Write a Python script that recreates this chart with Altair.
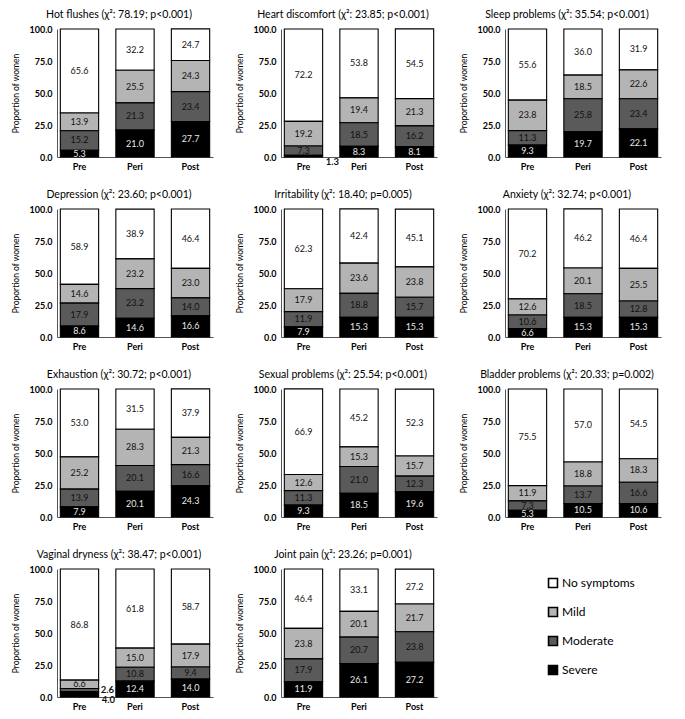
import altair as alt
import pandas as pd

FONT = "Lato"

stages = ["Pre", "Peri", "Post"]
levels = ["No symptoms", "Mild", "Moderate", "Severe"]
level_colors = ["#ffffff", "#b4b4b4", "#5a5a5a", "#000000"]

symptoms = ["Hot flushes", "Heart discomfort", "Sleep problems", "Depression",
            "Irritability", "Anxiety", "Exhaustion", "Sexual problems",
            "Bladder problems", "Vaginal dryness", "Joint pain"]
chi2 = ["78.19", "23.85", "35.54", "23.60", "18.40", "32.74", "30.72",
        "25.54", "20.33", "38.47", "23.26"]
pvals = ["p<0.001", "p<0.001", "p<0.001", "p<0.001", "p=0.005", "p<0.001",
         "p<0.001", "p<0.001", "p=0.002", "p<0.001", "p=0.001"]

# values per symptom: [Pre, Peri, Post]
severe_vals = [[5.3, 21.0, 27.7], [1.3, 8.3, 8.1], [9.3, 19.7, 22.1],
               [8.6, 14.6, 16.6], [7.9, 15.3, 15.3], [6.6, 15.3, 15.3],
               [7.9, 20.1, 24.3], [9.3, 18.5, 19.6], [5.3, 10.5, 10.6],
               [4.0, 12.4, 14.0], [11.9, 26.1, 27.2]]
moderate_vals = [[15.2, 21.3, 23.4], [7.3, 18.5, 16.2], [11.3, 25.8, 23.4],
                 [17.9, 23.2, 14.0], [11.9, 18.8, 15.7], [10.6, 18.5, 12.8],
                 [13.9, 20.1, 16.6], [11.3, 21.0, 12.3], [7.3, 13.7, 16.6],
                 [2.6, 10.8, 9.4], [17.9, 20.7, 23.8]]
mild_vals = [[13.9, 25.5, 24.3], [19.2, 19.4, 21.3], [23.8, 18.5, 22.6],
             [14.6, 23.2, 23.0], [17.9, 23.6, 23.8], [12.6, 20.1, 25.5],
             [25.2, 28.3, 21.3], [12.6, 15.3, 15.7], [11.9, 18.8, 18.3],
             [6.6, 15.0, 17.9], [23.8, 20.1, 21.7]]
none_vals = [[65.6, 32.2, 24.7], [72.2, 53.8, 54.5], [55.6, 36.0, 31.9],
             [58.9, 38.9, 46.4], [62.3, 42.4, 45.1], [70.2, 46.2, 46.4],
             [53.0, 31.5, 37.9], [66.9, 45.2, 52.3], [75.5, 57.0, 54.5],
             [86.8, 61.8, 58.7], [46.4, 33.1, 27.2]]

# labels of very thin segments that are written beside the bar
outside_labels = {
    ("Heart discomfort", "Pre", "Severe"): "below",
    ("Vaginal dryness", "Pre", "Severe"): "below",
    ("Vaginal dryness", "Pre", "Moderate"): "right",
}

series = {"No symptoms": none_vals, "Mild": mild_vals,
          "Moderate": moderate_vals, "Severe": severe_vals}

y_axis = alt.Axis(title="Proportion of women", values=[0, 25, 50, 75, 100],
                  format=".1f", grid=False, ticks=False, labelPadding=5,
                  labelFont=FONT, labelFontSize=9, labelFontWeight="bold",
                  labelColor="#000", titleFont=FONT, titleFontSize=8.5,
                  titleFontWeight="normal", titleColor="#000",
                  domainColor="#555", titlePadding=3,
                  minExtent=34, maxExtent=34)
x_axis = alt.Axis(title=None, labelAngle=0, ticks=False, labelPadding=5,
                  labelFont=FONT, labelFontSize=9, labelFontWeight="bold",
                  labelColor="#000", domainColor="#555")
y_scale = alt.Scale(domain=[0, 100], nice=False)
x_scale = alt.Scale(paddingInner=0.31, paddingOuter=0.06)


def panel(i):
    rows = []
    name = symptoms[i]
    for lvl in levels:
        arr = series[lvl][i]
        for j, st in enumerate(stages):
            rows.append(dict(stage=st, level=lvl, value=arr[j],
                             ord=levels[::-1].index(lvl),
                             label=f"{arr[j]:.1f}",
                             pos=outside_labels.get((name, st, lvl), "in")))
    df = pd.DataFrame(rows)
    base = alt.Chart(df)
    x = alt.X("stage:N", sort=stages, scale=x_scale, axis=x_axis)

    bars = base.mark_bar(stroke="#000", strokeWidth=1.1).encode(
        x=x,
        y=alt.Y("value:Q", stack="zero", scale=y_scale, axis=y_axis),
        color=alt.Color("level:N", scale=alt.Scale(domain=levels, range=level_colors),
                        legend=alt.Legend(orient="none", legendX=490, legendY=548,
                                          title=None, symbolType="square",
                                          symbolSize=80, symbolStrokeColor="#000",
                                          symbolStrokeWidth=1.6,
                                          labelFont=FONT, labelFontSize=12,
                                          labelColor="#000", rowPadding=13,
                                          labelOffset=3)),
        order=alt.Order("ord:Q", sort="ascending"),
    )

    stacked = base.transform_stack(
        stack="value", groupby=["stage"], sort=[alt.SortField("ord", order="ascending")],
        as_=["y0", "y1"],
    ).transform_calculate(mid="(datum.y0 + datum.y1) / 2")

    ytxt = alt.Y("mid:Q", scale=y_scale, axis=y_axis)
    inside = stacked.transform_filter(alt.datum.pos == "in").mark_text(
        font=FONT, fontSize=9).encode(
        x=x, y=ytxt, text="label:N",
        color=alt.condition(alt.datum.level == "Severe", alt.value("#e8e8e8"),
                            alt.value("#111")),
    )
    below = stacked.transform_filter(alt.datum.pos == "below").mark_text(
        font=FONT, fontSize=9.5, fontWeight="bold", dx=29, dy=6, color="#111").encode(
        x=x, y=ytxt, text="label:N")
    right = stacked.transform_filter(alt.datum.pos == "right").mark_text(
        font=FONT, fontSize=9.5, fontWeight="bold", dx=28, dy=0, color="#111").encode(
        x=x, y=ytxt, text="label:N")

    title = f"{name} (\u03c7\u00b2: {chi2[i]}; {pvals[i]})"
    return alt.layer(bars, inside, below, right).properties(
        width=156, height=128,
        title=alt.TitleParams(title, font=FONT, fontSize=10.5, fontWeight="normal",
                              color="#000", anchor="middle", frame="group",
                              dx=-16, offset=5),
    )


chart = alt.concat(*[panel(i) for i in range(len(symptoms))], columns=3,
                   spacing={"row": 18, "column": 22}).configure_view(
    stroke=None).properties(padding={"left": 3, "top": 1, "right": 5, "bottom": 5})

chart.save("out.html", embed_options={"renderer": "svg", "actions": False})
